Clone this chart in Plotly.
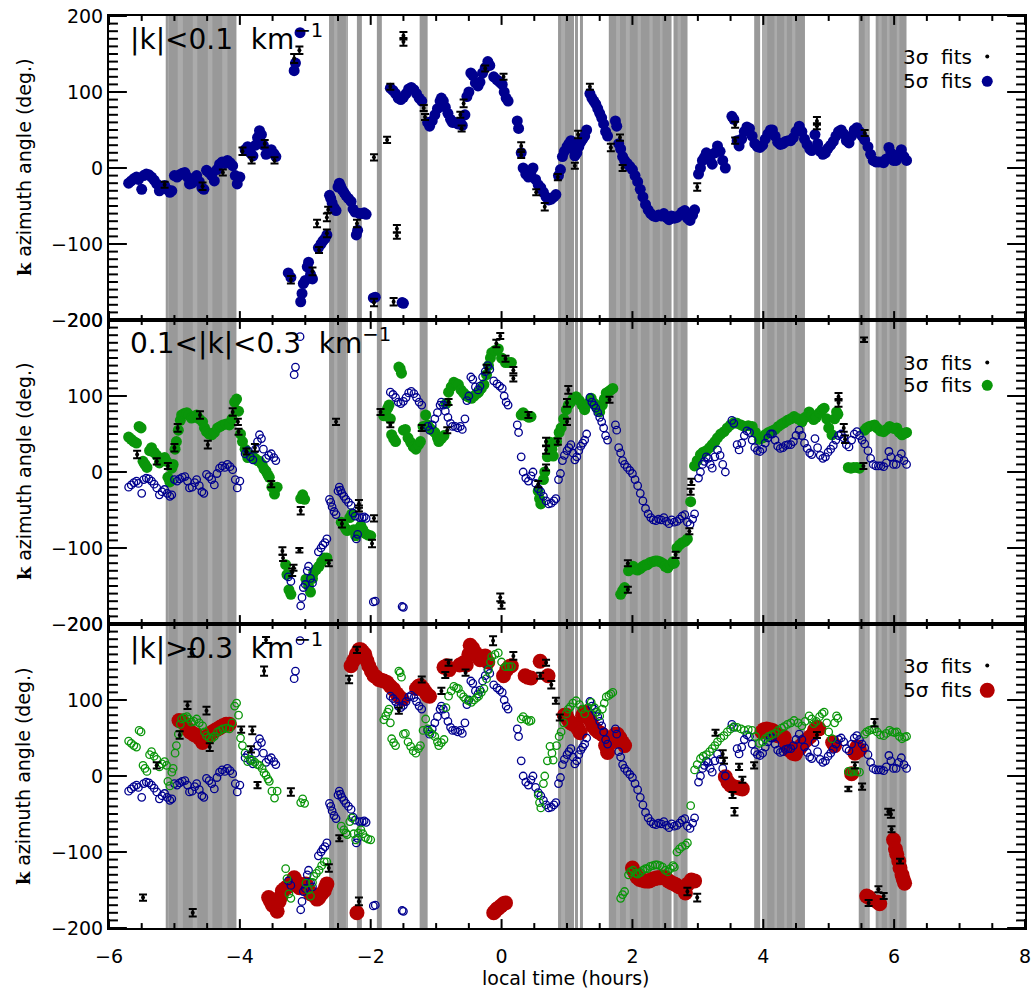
import plotly.graph_objects as go
from plotly.subplots import make_subplots

# ---------------- data (local time in hours, azimuth in degrees) ----------------
blue_t = [-5.70,-5.66,-5.62,-5.58,-5.55,-5.50,-5.47,-5.43,-5.39,-5.35,-5.31,-5.27,-5.23,-5.19,-5.15,-5.11,-5.07,-5.04,
          -5.00,-4.96,-4.92,-4.88,-4.84,-4.80,-4.77,-4.73,-4.69,-4.66,-4.62,-4.58,-4.55,-4.51,-4.47,-4.43,-4.39,-4.35,
          -4.31,-4.27,-4.23,-4.19,-4.15,-4.11,-4.07,-4.04,-4.00,
          -3.92,-3.88,-3.84,-3.80,-3.76,-3.73,-3.70,-3.67,-3.64,-3.60,-3.56,-3.52,-3.48,-3.45,
          -3.26,-3.22,-3.17,-3.15,-3.08,-3.07,-3.05,-3.03,-3.00,-2.97,-2.95,-2.92,-2.89,-2.80,-2.76,-2.73,-2.70,-2.67,
          -2.63,-2.61,-2.59,-2.56,-2.53,-2.50,-2.48,-2.46,-2.44,-2.41,-2.38,-2.34,-2.30,-2.27,-2.24,-2.22,-2.20,-2.17,
          -2.13,-2.10,-2.07,
          -1.96,-1.93,-1.52,-1.50,
          -1.70,-1.66,-1.62,-1.58,-1.54,-1.50,-1.46,-1.42,-1.38,-1.34,-1.30,-1.26,-1.22,
          -1.13,-1.10,-1.06,-1.02,-0.98,-0.94,-0.92,-0.89,-0.86,-0.82,-0.78,-0.75,-0.71,-0.67,-0.63,-0.60,-0.56,-0.53,
          -0.50,-0.47,-0.44,-0.40,-0.36,-0.33,-0.29,-0.25,-0.21,-0.18,-0.12,-0.07,-0.03,0.01,0.04,0.07,0.10,
          0.24,0.26,0.30,0.33,0.37,0.41,0.45,0.48,0.52,0.56,0.60,0.64,0.68,0.72,0.76,0.80,0.83,0.87,0.90,0.93,0.96,
          1.00,1.03,1.06,1.09,1.12,1.15,1.18,1.21,1.24,1.27,1.30,1.35,1.38,1.41,1.44,1.47,1.50,1.53,1.56,1.59,1.62,
          1.74,1.76,1.79,1.82,1.85,1.88,1.92,1.96,2.00,2.04,2.08,2.12,2.16,2.20,2.24,2.28,2.32,2.36,2.40,2.44,2.48,
          2.52,2.56,2.60,2.64,2.68,2.72,2.76,2.80,2.84,2.88,2.92,2.95,
          3.01,3.04,3.07,3.10,3.13,3.16,3.19,3.22,3.26,3.30,3.34,3.38,3.42,
          3.52,3.55,3.60,3.63,3.67,3.71,3.75,3.79,3.83,3.87,3.91,3.95,3.99,4.03,4.07,4.11,4.14,4.18,4.22,4.26,4.30,
          4.34,4.38,4.42,4.46,4.50,4.55,4.59,4.63,4.67,4.71,4.74,4.79,4.83,4.87,4.91,4.95,4.99,5.03,5.07,5.11,5.15,
          5.19,5.23,5.27,5.31,5.35,5.39,5.43,5.47,5.51,5.55,5.60,5.64,5.68,5.72,5.76,5.80,5.84,5.88,5.92,5.95,5.99,
          6.03,6.07,6.11,6.15,6.19]
blue_az = [-20,-17,-14,-12,-15,-28,-10,-8,-9,-12,-16,-21,-30,-26,-23,-28,-32,-30,
           -10,-12,-9,-7,-6,-12,-21,-20,-14,-10,-18,-26,-28,-3,-6,-10,-17,-2,
           5,8,6,10,7,3,-10,-21,-12,
           24,28,20,16,30,40,49,44,30,18,22,24,19,15,
           -138,-144,128,138,178,-176,-165,-152,-148,-130,-124,-140,-146,-105,-100,-96,-93,-88,
           -36,-40,-46,-52,-56,-25,-20,-24,-28,-32,-36,-40,-44,-54,-58,-88,-82,-60,
           -60,-59,-61,
           -171,-170,-177,-178,
           105,102,98,92,90,93,98,104,106,103,98,92,88,
           60,55,62,70,78,88,92,88,80,72,64,60,60,58,60,56,70,94,
           100,125,122,112,108,113,125,132,140,135,120,116,113,110,100,92,88,
           62,52,20,0,-8,-12,-5,0,-15,-22,-26,-32,-38,-42,-41,-38,-35,-10,-2,15,22,
           28,32,36,25,16,20,28,34,38,42,50,98,92,88,84,78,72,66,58,48,42,
           62,55,32,25,15,10,6,2,-2,-10,-18,-28,-38,-48,-55,-60,-63,-64,-62,-63,-60,
           -65,-68,-63,-66,-65,-62,-58,-56,-66,-69,-62,-55,
           -8,0,10,14,20,18,10,5,20,29,22,10,0,
           68,64,36,29,38,48,54,52,42,32,28,27,30,38,45,50,50,42,34,31,32,
           35,36,36,40,48,55,48,38,31,25,23,44,32,22,18,20,26,30,35,42,48,
           50,45,36,33,42,50,53,48,42,37,28,18,10,8,8,8,7,12,27,20,10,
           10,18,24,15,10]

green_t = [-5.70,-5.66,-5.62,-5.58,-5.54,-5.51,-5.48,-5.45,-5.42,-5.38,-5.35,-5.31,-5.27,-5.23,-5.19,-5.15,-5.12,-5.10,
           -5.07,-5.04,-5.02,-4.99,-4.97,-4.94,-4.91,-4.89,-4.85,-4.81,-4.78,-4.74,-4.70,-4.66,-4.62,-4.57,-4.54,-4.51,
           -4.47,-4.43,-4.39,-4.34,-4.30,-4.26,-4.21,-4.16,-4.12,-4.08,-4.05,-4.02,-3.99,-3.96,-3.92,-3.88,-3.84,-3.81,
           -3.77,-3.73,-3.70,-3.66,-3.63,-3.60,-3.57,-3.55,-3.51,-3.47,-3.43,
           -3.30,-3.28,-3.25,-3.22,-3.07,-3.04,-3.01,-2.99,-2.95,-2.92,-2.89,-2.87,-2.83,-2.79,-2.75,-2.71,-2.67,
           -2.45,-2.41,-2.38,-2.36,-2.32,-2.29,-2.26,-2.23,-2.19,-2.15,-2.12,-2.08,-2.04,-2.00,
           -1.80,-1.77,-1.74,-1.72,-1.70,-1.68,-1.65,-1.62,-1.57,-1.55,-1.53,-1.50,-1.47,-1.43,-1.39,-1.35,-1.31,-1.27,
           -1.24,-1.20,-1.16,-1.13,-1.10,-1.06,-1.02,-0.98,-0.96,-0.92,-0.88,-0.85,-0.81,-0.77,-0.73,-0.69,-0.66,-0.62,
           -0.58,-0.55,-0.51,-0.46,-0.42,-0.38,-0.35,-0.31,-0.27,-0.23,-0.20,-0.17,-0.15,-0.10,-0.05,0.00,0.06,0.11,0.15,
           0.30,0.33,0.38,0.42,0.45,0.56,0.58,0.60,0.64,0.66,0.70,0.74,0.77,0.79,0.84,0.88,0.91,0.95,0.99,1.02,1.05,
           1.09,1.14,1.19,1.23,1.27,1.32,1.37,1.42,1.46,1.50,1.54,1.57,1.60,1.64,1.67,1.70,
           1.82,1.85,1.88,1.94,1.97,2.01,2.05,2.08,2.12,2.16,2.20,2.23,2.27,2.31,2.35,2.38,2.42,2.46,2.50,2.54,2.58,
           2.62,2.64,2.68,2.72,2.76,2.81,2.84,2.89,
           2.95,2.99,3.04,3.08,3.13,3.18,3.22,3.26,3.30,3.35,3.40,3.45,3.50,3.55,3.60,3.66,3.71,3.77,3.83,3.88,3.94,
           3.99,4.03,4.08,4.13,4.18,4.23,4.28,4.32,4.37,4.42,4.47,4.53,4.59,4.64,4.70,4.74,4.77,4.81,4.86,4.90,4.93,
           4.97,5.00,5.05,5.09,5.12,5.14,
           5.30,5.34,5.38,5.43,5.47,5.55,5.58,5.62,5.66,5.70,5.74,5.79,5.84,5.88,5.93,5.97,6.01,6.04,6.08,6.12,6.16,6.19]
green_az = [46,43,40,38,60,58,14,10,6,28,32,26,22,12,16,19,14,-7,
            -13,5,10,30,40,55,68,75,77,78,75,71,72,75,70,66,58,53,
            50,49,52,58,60,62,63,62,70,92,96,80,50,40,30,19,22,21,
            18,15,14,10,4,1,-4,-7,-20,-29,-20,
            -122,-135,-155,-161,-35,-30,-36,-141,-150,-158,-140,-132,-128,-124,-118,-113,-113,
            -66,-71,-75,-77,-60,-55,-76,-84,-75,-71,-76,-81,-83,-84,
            74,79,84,88,70,49,44,40,138,136,130,55,56,45,39,33,30,36,
            40,60,75,62,58,55,52,45,40,44,48,90,105,112,118,116,115,108,
            104,101,99,97,100,103,105,110,115,128,140,150,157,160,162,150,144,144,144,
            75,78,74,72,73,-25,-35,-42,-10,0,20,39,30,21,40,52,58,70,82,88,91,
            96,99,94,88,82,90,97,90,84,79,88,96,104,106,108,110,
            -161,-156,-152,-130,-126,-124,-128,-129,-127,-124,-122,-122,-119,-118,-117,-117,-118,-120,-124,-126,-122,
            -118,-120,-100,-96,-93,-91,-88,-39,
            8,15,23,26,28,32,36,40,45,50,53,58,62,65,64,62,60,61,60,52,43,
            45,49,52,54,56,60,63,65,68,70,73,70,66,72,79,75,69,72,78,82,84,
            70,58,49,70,79,76,
            6,5,6,6,5,55,58,60,61,62,58,54,53,56,60,58,57,58,52,49,51,52]

red_t = [-4.93,-4.89,-4.84,-4.80,-4.76,-4.72,-4.69,-4.66,-4.62,-4.57,-4.53,-4.50,-4.46,-4.42,-4.38,-4.34,-4.30,-4.26,
         -4.21,-4.16,
         -3.56,-3.53,-3.50,-3.47,-3.43,-3.40,-3.37,-3.35,-3.31,-3.28,-3.25,-3.21,-3.17,-3.13,-3.09,-3.05,-3.02,-2.99,
         -2.95,-2.92,-2.89,-2.85,-2.82,-2.79,-2.75,-2.71,-2.69,-2.67,
         -2.21,-2.30,-2.26,-2.22,-2.18,-2.15,-2.12,-2.09,-2.06,-2.03,-1.99,-1.95,-1.91,-1.88,-1.84,-1.80,-1.75,-1.70,
         -1.65,-1.60,-1.56,-1.52,-1.30,-1.27,-1.24,-1.20,-1.16,-1.13,-1.10,-0.88,-0.84,-0.80,-0.64,-0.58,-0.54,-0.50,
         -0.48,-0.44,-0.40,-0.36,-0.33,-0.29,-0.25,-0.21,
         -0.12,-0.10,-0.07,-0.05,-0.01,0.03,0.06,0.03,0.08,0.12,0.15,0.36,0.40,0.45,0.59,0.71,
         0.96,0.99,1.02,1.05,1.09,1.14,1.17,1.20,1.24,1.27,1.31,1.35,1.39,1.44,1.48,1.52,1.55,1.59,1.62,1.70,1.74,
         1.77,1.81,1.85,1.88,
         2.00,2.04,2.07,2.11,2.15,2.19,2.23,2.26,2.30,2.34,2.38,2.42,2.46,2.51,2.55,2.59,2.64,2.68,2.72,2.77,2.81,
         2.85,2.90,2.95,
         3.42,3.46,3.50,3.55,3.60,3.64,3.68,
         3.98,4.01,4.05,4.10,4.14,4.18,4.22,4.27,4.32,4.36,4.40,4.45,4.49,4.55,4.58,4.62,4.67,4.72,4.78,4.82,4.85,
         5.06,5.09,5.35,5.40,5.43,5.47,
         5.58,5.62,5.75,5.78,5.99,6.02,6.04,6.07,6.09,6.12,6.14,6.16]
red_az = [73,72,68,62,58,56,54,54,50,44,48,52,54,58,60,62,64,66,
          68,68,
          -160,-165,-170,-171,-178,-165,-158,-151,-148,-146,-145,-140,-134,-140,-147,-146,-143,-142,
          -150,-155,-156,-158,-162,-160,-155,-151,-146,-142,
          -180,145,152,160,166,166,163,160,152,145,138,132,130,127,126,125,123,118,
          114,108,104,101,115,118,119,115,110,106,105,143,145,140,146,149,146,160,
          172,168,162,157,153,155,158,150,
          -180,-178,-175,-174,-171,-168,-167,132,140,144,145,132,130,129,151,132,
          80,80,74,70,68,67,62,57,80,84,78,74,66,61,58,56,54,40,31,45,55,
          55,50,44,40,
          -121,-128,-133,-136,-137,-138,-138,-138,-136,-135,-134,-134,-133,-134,-138,-140,-142,-144,-146,-147,-154,
          -142,-137,-138,
          -1,-8,-12,-14,-15,-16,-17,
          58,61,62,61,60,56,53,52,51,40,34,30,29,36,40,44,48,52,60,64,62,
          44,40,3,30,38,34,
          -158,-160,-166,-168,-84,-96,-103,-112,-121,-130,-136,-141]

# 3-sigma fits (black points with error bars), one set per panel
k1_t = [-5.15,-4.57,-4.26,-3.96,-3.82,-3.62,-3.47,-3.22,-3.17,-3.09,-2.89,-2.82,-2.79,-2.67,-2.65,-2.67,-2.21,-1.95,
        -1.95,-1.75,-1.70,-1.65,-1.60,-1.60,-1.50,-1.50,-1.19,-1.17,-0.63,-0.61,-0.58,-0.25,0.03,0.30,0.30,0.53,0.66,
        0.86,1.12,1.17,1.35,1.67,1.81,1.85,2.99,3.57,3.57,4.82,4.82,5.55]
k1_az = [-22,-24,-6,22,10,32,10,-147,144,155,-136,-73,-108,-65,-55,-86,-73,-177,
         14,37,107,-176,-80,-89,174,166,79,67,70,52,85,131,120,29,17,-32,-51,
         -12,3,44,107,27,40,0,-25,57,36,62,55,46]
k1_err = [4,5,4,5,4,5,4,5,6,5,5,5,4,5,4,5,5,5,
          4,4,4,5,5,4,5,5,4,4,4,4,5,4,4,5,4,4,5,
          4,4,5,4,5,4,4,5,4,4,5,4,4]

k2_t = [-5.57,-5.27,-5.10,-5.00,-4.95,-4.61,-4.49,-4.11,-4.03,-4.02,-3.90,-3.77,-3.52,-3.35,-3.34,-3.20,-3.18,-3.09,
        -3.07,-2.64,-2.53,-2.44,-2.18,-2.18,-1.98,-1.95,-1.85,-1.70,-1.22,-0.81,-0.83,-0.23,-0.08,-0.02,-0.02,0.00,
        0.06,0.18,0.18,0.41,0.68,0.68,0.68,0.86,1.02,1.00,1.00,0.56,1.65,1.93,1.93,2.66,2.87,2.89,2.90,5.15,5.15,
        5.23,5.25,5.54,5.53]
k2_az = [23,14,8,32,58,75,36,79,66,53,27,32,-16,-104,-113,-132,-126,-103,
         -51,-120,66,-68,-42,-48,-94,-61,79,62,58,92,55,136,169,179,-165,-176,
         149,134,123,75,40,29,6,40,108,91,66,-16,95,-120,-155,-109,-78,-26,-13,99,91,
         58,43,174,8]
k2_err = [5,4,4,5,5,5,5,5,4,4,4,5,4,5,4,5,4,3,
          5,4,4,5,5,4,5,4,4,3,4,4,4,5,5,4,5,4,
          4,4,4,4,5,5,4,4,5,5,4,4,4,4,4,4,4,4,4,5,5,
          5,5,3,4]

k3_t = [-5.48,-5.27,-4.92,-4.80,-4.74,-4.72,-4.51,-4.46,-3.98,-3.81,-3.83,-3.73,-3.60,-3.63,-3.22,-2.64,-2.48,-2.33,
        -2.18,-2.21,-1.57,-1.22,-0.92,-0.86,-0.81,-0.55,-0.13,0.18,0.59,0.68,0.76,0.83,0.89,2.84,2.99,3.27,3.38,3.40,
        3.53,3.56,3.63,3.68,3.86,4.82,5.30,5.40,5.51,5.61,5.70,5.76,5.84,5.91,5.95,5.96,6.09]
k3_az = [-160,14,54,93,162,-180,86,38,61,60,35,-12,179,138,-21,-121,-82,127,
         -165,166,86,127,112,133,149,136,178,158,132,149,120,99,77,-152,-160,57,29,20,
         -25,-47,12,-5,14,54,-17,14,-14,-167,70,-149,-158,-47,-50,-70,-112]
k3_err = [4,4,5,5,5,5,5,5,4,5,4,4,4,6,5,5,4,5,
          5,4,4,4,4,4,4,4,6,5,4,4,5,4,4,5,5,4,5,4,
          4,5,4,4,4,4,3,4,4,4,5,4,4,4,5,4,3]

# shaded time intervals (hours)
band_start = [-5.133,-2.637,-2.211,-1.906,-1.252,0.863,1.122,1.198,1.639,2.628,3.861,3.983,5.459,5.718]
band_end   = [-4.052,-2.348,-2.135,-1.830,-1.130,1.107,1.168,1.244,2.598,2.842,3.952,4.637,5.626,6.189]
# lighter stripes inside the shaded intervals
stripe_start = [-5.10,-4.95,-4.72,-4.49,-4.27,-2.56,-2.38,0.91,1.75,1.90,2.08,2.26,2.42,2.69,3.99,4.17,4.32,4.44,
                5.55,5.76,5.89,6.04]
stripe_end   = [-5.085,-4.87,-4.65,-4.42,-4.19,-2.51,-2.35,0.97,1.81,1.96,2.13,2.31,2.46,2.74,4.06,4.21,4.36,4.49,
                5.61,5.81,5.93,6.08]

panel_titles = ["|k|<0.1  km<sup>−1</sup>", "0.1<|k|<0.3  km<sup>−1</sup>", "|k|>0.3  km<sup>−1</sup>"]

# axis tick positions
X_RANGE = [-6, 8]
Y_RANGE = [-200, 200]
x_major = [-6, -4, -2, 0, 2, 4, 6, 8]
y_major = [-200, -100, 0, 100, 200]
x_minor = [v / 2 for v in range(-12, 17) if v % 4 != 0]
y_minor = [v for v in range(-190, 200, 10) if v % 100 != 0]

# ---------------- styling ----------------
BLUE = "#00008f"
GREEN = "#0a960a"
RED = "#b40000"
FONT = "DejaVu Sans"

W, H = 1036, 996
ML, MR, MT, MB = 109, 5, 7, 68
PW, PH = W - ML - MR, H - MT - MB
HOUR_PX = PW / (X_RANGE[1] - X_RANGE[0])
DEG_PX = (PH / 3) / (Y_RANGE[1] - Y_RANGE[0])

fig = make_subplots(rows=3, cols=1, shared_xaxes=True, vertical_spacing=0)

def filled(t, a, color, size):
    return go.Scatter(x=t, y=a, mode="markers", showlegend=False, hoverinfo="skip",
                      marker=dict(color=color, size=size, line=dict(width=0)))

def hollow(t, a, color):
    return go.Scatter(x=t, y=a, mode="markers", showlegend=False, hoverinfo="skip",
                      marker=dict(symbol="circle-open", color=color, size=7.5, line=dict(width=1.3, color=color)))

def black(t, a, e):
    return go.Scatter(x=t, y=a, mode="markers", showlegend=False, hoverinfo="skip",
                      marker=dict(color="black", size=4),
                      error_y=dict(type="data", array=e, visible=True, color="black", thickness=2, width=4))

def tick_marks():
    """Short inward tick segments on all four sides of a panel (major and minor)."""
    xs, ys = [], []
    for vals, ln in ((y_minor, 9), (y_major, 18)):
        d = ln / HOUR_PX
        for v in vals:
            xs += [X_RANGE[0], X_RANGE[0] + d, None, X_RANGE[1] - d, X_RANGE[1], None]
            ys += [v, v, None, v, v, None]
    for vals, ln in ((x_minor, 5), (x_major, 9)):
        d = ln / DEG_PX
        for v in vals:
            xs += [v, v, None, v, v, None]
            ys += [Y_RANGE[0], Y_RANGE[0] + d, None, Y_RANGE[1] - d, Y_RANGE[1], None]
    return go.Scatter(x=xs, y=ys, mode="lines", showlegend=False, hoverinfo="skip",
                      line=dict(color="black", width=2), connectgaps=False)

# panel 1
fig.add_trace(filled(blue_t, blue_az, BLUE, 11), row=1, col=1)
fig.add_trace(black(k1_t, k1_az, k1_err), row=1, col=1)
# panel 2
fig.add_trace(filled(green_t, green_az, GREEN, 11), row=2, col=1)
fig.add_trace(hollow(blue_t, blue_az, BLUE), row=2, col=1)
fig.add_trace(black(k2_t, k2_az, k2_err), row=2, col=1)
# panel 3
fig.add_trace(filled(red_t, red_az, RED, 15), row=3, col=1)
fig.add_trace(hollow(blue_t, blue_az, BLUE), row=3, col=1)
fig.add_trace(hollow(green_t, green_az, GREEN), row=3, col=1)
fig.add_trace(black(k3_t, k3_az, k3_err), row=3, col=1)
for r in (1, 2, 3):
    fig.add_trace(tick_marks(), row=r, col=1)

shapes = []
for x0, x1 in zip(band_start, band_end):
    shapes.append(dict(type="rect", xref="x", yref="paper", x0=x0, x1=x1, y0=0, y1=1,
                       fillcolor="#999999", line=dict(width=0), layer="below"))
for x0, x1 in zip(stripe_start, stripe_end):
    shapes.append(dict(type="rect", xref="x", yref="paper", x0=x0, x1=x1, y0=0, y1=1,
                       fillcolor="#ababab", line=dict(width=0), layer="below"))

def px2paper(px, py):
    return (px - ML) / PW, 1 - (py - MT) / PH

annotations = []
legend_rows = [(48, 73, BLUE, 11), (357, 380, GREEN, 11), (663, 688, RED, 15)]
panel_top = [7, 314, 622]
for i in range(3):
    # panel label
    ax, ay = px2paper(128, panel_top[i] + 22)
    annotations.append(dict(text=panel_titles[i], xref="paper", yref="paper", x=ax, y=ay,
                            xanchor="left", yanchor="middle", showarrow=False,
                            font=dict(family=FONT, size=28, color="black")))
    # legend
    r3, r5, col, sz = legend_rows[i]
    for ry, lbl in ((r3, "3σ  fits"), (r5, "5σ  fits")):
        lx, ly = px2paper(980, ry)
        annotations.append(dict(text=lbl, xref="paper", yref="paper", x=lx, y=ly,
                                xanchor="right", yanchor="middle", showarrow=False,
                                font=dict(family=FONT, size=20, color="black")))
    cx, cy3 = px2paper(993, r3)
    _, cy5 = px2paper(993, r5)
    shapes.append(dict(type="circle", xref="paper", yref="paper", xsizemode="pixel", ysizemode="pixel",
                       xanchor=cx, yanchor=cy3, x0=-2, x1=2, y0=-2, y1=2,
                       fillcolor="black", line=dict(width=0)))
    shapes.append(dict(type="circle", xref="paper", yref="paper", xsizemode="pixel", ysizemode="pixel",
                       xanchor=cx, yanchor=cy5, x0=-sz / 2, x1=sz / 2, y0=-sz / 2, y1=sz / 2,
                       fillcolor=col, line=dict(width=0)))
    # y title
    tx, ty = px2paper(23, panel_top[i] + 153)
    annotations.append(dict(text="<b><span style='font-family:DejaVu Serif'>k</span></b> azimuth angle (deg.)",
                            xref="paper", yref="paper", x=tx, y=ty, textangle=-90,
                            xanchor="center", yanchor="middle", showarrow=False,
                            font=dict(family=FONT, size=19, color="black")))

annotations.append(dict(text="local time (hours)", xref="paper", yref="paper",
                        x=px2paper(569, 978)[0], y=px2paper(569, 978)[1],
                        xanchor="center", yanchor="middle", showarrow=False,
                        font=dict(family=FONT, size=19, color="black")))

fig.update_layout(width=W, height=H, margin=dict(l=ML, r=MR, t=MT, b=MB),
                  plot_bgcolor="white", paper_bgcolor="white",
                  shapes=shapes, annotations=annotations, showlegend=False,
                  font=dict(family=FONT, size=19, color="black"))

fig.update_xaxes(range=X_RANGE, tickmode="array", tickvals=x_major, ticks="",
                 showline=True, linewidth=2, linecolor="black", mirror=True,
                 showgrid=False, zeroline=False,
                 tickfont=dict(family=FONT, size=19))
fig.update_xaxes(ticklabelstandoff=10, row=3, col=1)
fig.update_yaxes(range=Y_RANGE, tickmode="array", tickvals=y_major, ticks="",
                 showline=True, linewidth=2, linecolor="black", mirror=True,
                 showgrid=False, zeroline=False,
                 tickfont=dict(family=FONT, size=19))

fig.write_html("out.html")
